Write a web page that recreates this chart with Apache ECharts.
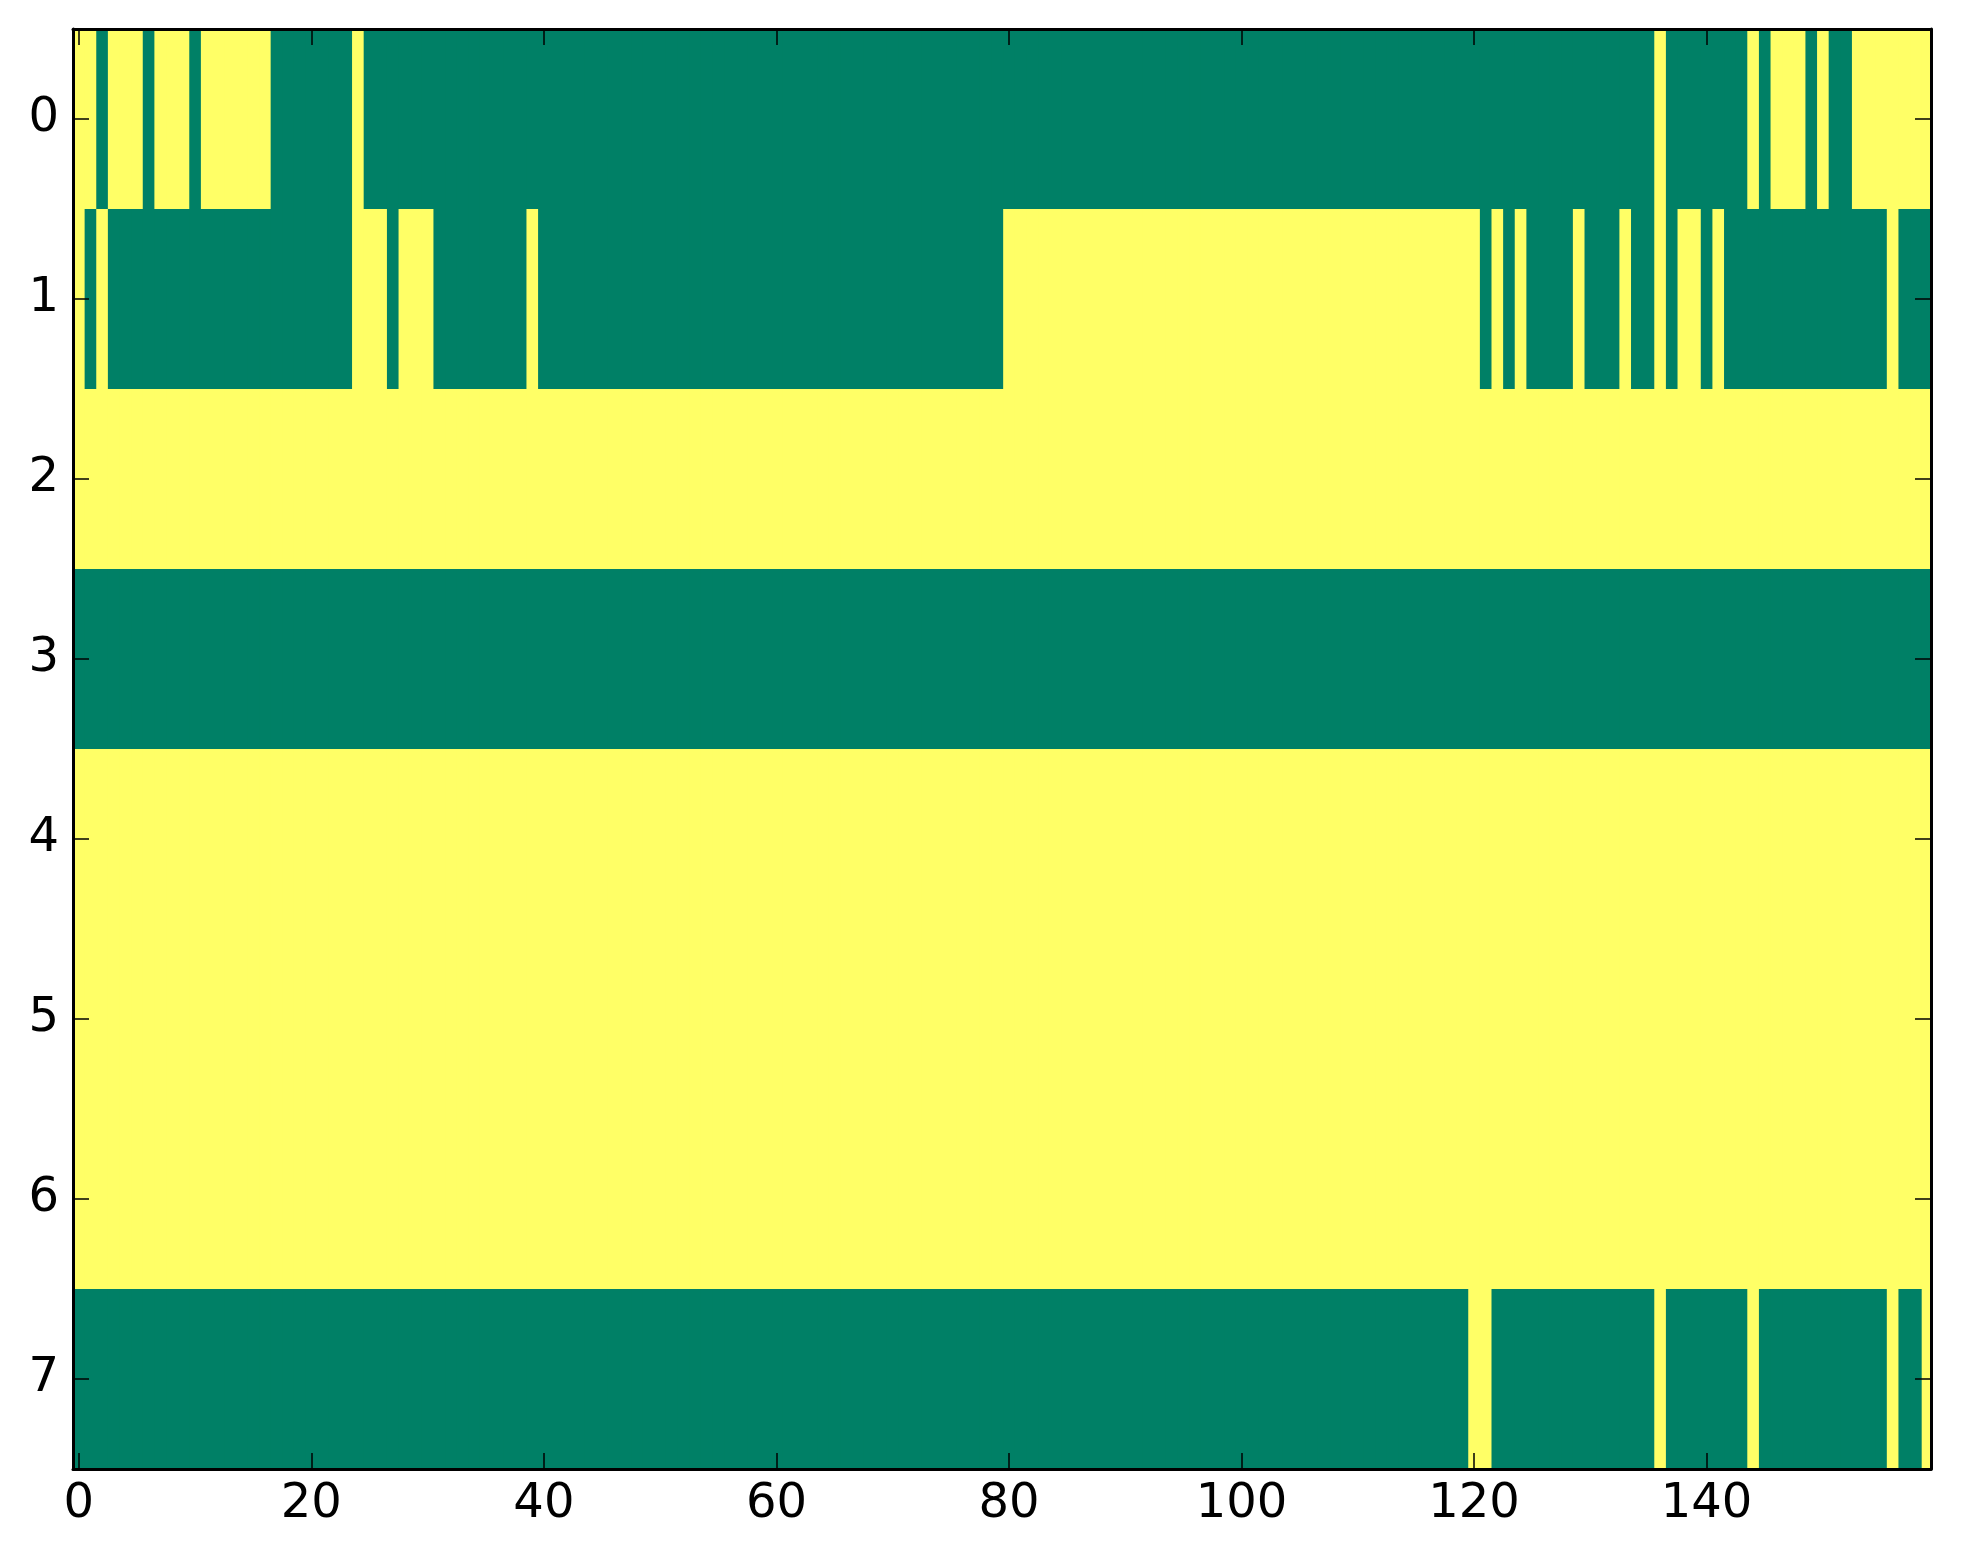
<!DOCTYPE html>
<html>
<head>
<meta charset="utf-8">
<script src="https://cdn.jsdelivr.net/npm/echarts@6/dist/echarts.min.js"></script>
<style>
  html, body { margin: 0; padding: 0; background: #fff; }
  #main { width: 1963px; height: 1564px; }
</style>
</head>
<body>
<div id="main"></div>
<script>
// one string per row, 160 cells, groups of ten (1 = yellow, 0 = green)
const row0 = '1101110111 0111111000 0000100000 0000000000 0000000000 0000000000 0000000000 0000000000 0000000000 0000000000 0000000000 0000000000 0000000000 0000001000 0000101110 1001111111';
const row1 = '1010000000 0000000000 0000111011 1000000001 0000000000 0000000000 0000000000 0000000000 1111111111 1111111111 1111111111 1111111111 1010100001 0001001011 0100000000 0000001000';
const row2 = '1111111111 1111111111 1111111111 1111111111 1111111111 1111111111 1111111111 1111111111 1111111111 1111111111 1111111111 1111111111 1111111111 1111111111 1111111111 1111111111';
const row3 = '0000000000 0000000000 0000000000 0000000000 0000000000 0000000000 0000000000 0000000000 0000000000 0000000000 0000000000 0000000000 0000000000 0000000000 0000000000 0000000000';
const row4 = '1111111111 1111111111 1111111111 1111111111 1111111111 1111111111 1111111111 1111111111 1111111111 1111111111 1111111111 1111111111 1111111111 1111111111 1111111111 1111111111';
const row5 = '1111111111 1111111111 1111111111 1111111111 1111111111 1111111111 1111111111 1111111111 1111111111 1111111111 1111111111 1111111111 1111111111 1111111111 1111111111 1111111111';
const row6 = '1111111111 1111111111 1111111111 1111111111 1111111111 1111111111 1111111111 1111111111 1111111111 1111111111 1111111111 1111111111 1111111111 1111111111 1111111111 1111111111';
const row7 = '0000000000 0000000000 0000000000 0000000000 0000000000 0000000000 0000000000 0000000000 0000000000 0000000000 0000000000 0000000000 1100000000 0000001000 0000100000 0000001001';

const rows = [row0, row1, row2, row3, row4, row5, row6, row7];
const xTicks = [0, 20, 40, 60, 80, 100, 120, 140];
const yTicks = [0, 1, 2, 3, 4, 5, 6, 7];
const colors = ['#008066', '#ffff66'];   // summer colormap ends

const cells = [];
rows.forEach(function (str, r) {
  str.replace(/\s/g, '').split('').forEach(function (ch, c) {
    cells.push([c, r, Number(ch)]);
  });
});

const chart = echarts.init(document.getElementById('main'), null, { renderer: 'canvas' });

const labelFont = { color: '#000', fontSize: 48, fontFamily: 'DejaVu Sans' };
const frame = { show: true, onZero: false, lineStyle: { color: '#000', width: 3 } };
const tick = { show: true, inside: true, length: 16, lineStyle: { color: '#000', width: 1.5 } };

// axes drawn above the cells so the inner ticks and frame stay visible
function xAxisCfg(pos, labels) {
  return {
    type: 'value', position: pos, min: -0.5, max: 159.3, z: 10,
    axisLine: frame,
    axisTick: Object.assign({ customValues: xTicks }, tick),
    axisLabel: Object.assign({ show: labels, margin: 12, customValues: xTicks }, labelFont),
    splitLine: { show: false }
  };
}
function yAxisCfg(pos, labels) {
  return {
    type: 'value', position: pos, min: -0.5, max: 7.5, inverse: true, z: 10,
    axisLine: frame,
    axisTick: Object.assign({ customValues: yTicks }, tick),
    axisLabel: Object.assign({ show: labels, margin: 14, customValues: yTicks }, labelFont),
    splitLine: { show: false }
  };
}

chart.setOption({
  animation: false,
  backgroundColor: '#fff',
  grid: { left: 73, right: 32, top: 29, bottom: 95, outerBoundsMode: 'none' },
  xAxis: [xAxisCfg('bottom', true), xAxisCfg('top', false)],
  yAxis: [yAxisCfg('left', true), yAxisCfg('right', false)],
  series: [{
    type: 'custom',
    clip: true,
    z: 1,
    data: cells,
    encode: { x: 0, y: 1 },
    renderItem: function (params, api) {
      const c = api.value(0), r = api.value(1);
      const a = api.coord([c - 0.5, r - 0.5]);
      const b = api.coord([c + 0.5, r + 0.5]);
      return {
        type: 'rect',
        shape: {
          x: Math.min(a[0], b[0]),
          y: Math.min(a[1], b[1]),
          width: Math.abs(b[0] - a[0]) + 1,
          height: Math.abs(b[1] - a[1]) + 1
        },
        style: { fill: colors[api.value(2)] }
      };
    }
  }]
});
</script>
</body>
</html>
